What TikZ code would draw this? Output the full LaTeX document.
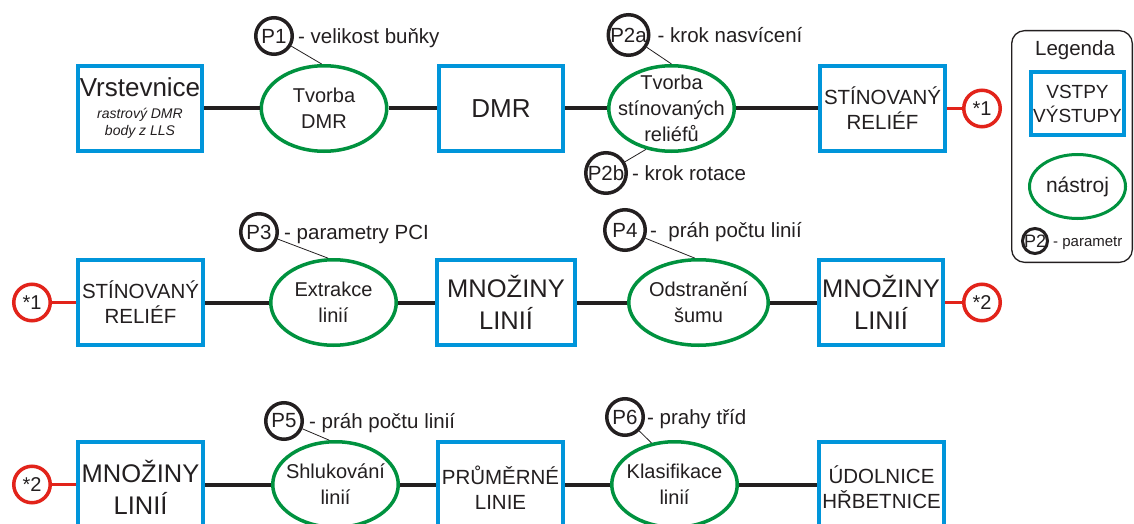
\documentclass[tikz,border=0pt]{standalone}
\usepackage{fontspec}
\setmainfont{Liberation Sans}
\usetikzlibrary{shapes.geometric,positioning}

\definecolor{boxblue}{RGB}{0,149,218}
\definecolor{toolgreen}{RGB}{0,146,63}
\definecolor{linkred}{RGB}{226,35,26}
\definecolor{ink}{RGB}{35,31,32}

\begin{document}
\begin{tikzpicture}[x=1pt,y=-1pt,
  every node/.style={text=ink},
  % data sets (inputs / outputs)
  databox/.style={rectangle, draw=boxblue, line width=4pt, inner sep=0pt,
    minimum width=124.5pt, minimum height=84.5pt, align=center,
    font=\fontsize{20.5}{25}\selectfont},
  bigtext/.style={font=\fontsize{25.5}{32}\selectfont},
  lowbox/.style={minimum height=90.5pt},
  % processing tools
  tool/.style={ellipse, draw=toolgreen, line width=3.5pt, inner sep=-20pt,
    minimum width=125.5pt, minimum height=85.5pt, align=center,
    font=\fontsize{20}{26}\selectfont},
  % parameters
  param/.style={circle, draw=ink, line width=3.5pt, inner sep=-6pt,
    minimum size=36.5pt, font=\fontsize{20.5}{20.5}\selectfont},
  bigparam/.style={param, minimum size=40.5pt},
  plab/.style={inner sep=0pt, font=\fontsize{20.5}{24}\selectfont,
    text height=14.7pt, text depth=0pt},
  pin/.style={draw=ink, line width=0.8pt},
  % page links
  link/.style={circle, draw=linkred, line width=3.5pt, inner sep=-6pt,
    minimum size=36.5pt, font=\fontsize{20}{20}\selectfont},
  linkline/.style={draw=linkred, line width=3.5pt},
  conn/.style={draw=ink, line width=4pt}
]
\useasboundingbox (0,0) rectangle (1134,524);
\clip (0,0) rectangle (1134,524);
\fill[white] (0,0) rectangle (1134,524);

% ---------- row 1 ----------
\node[databox, minimum width=124pt, font=\fontsize{14}{17}\selectfont\itshape] (vr) at (140,108.5)
  {{\upshape\fontsize{26}{26}\selectfont Vrstevnice}\\[5pt]rastrový DMR\\body z LLS};
\node[tool] (tv1) at (324,108.5) {Tvorba\\DMR};
\node[databox, font=\fontsize{26}{30}\selectfont] (dmr) at (501,108.5) {DMR};
\node[tool] (tv2) at (671.5,108.5) {Tvorba\\stínovaných\\reliéfů};
\node[databox, minimum width=125pt] (sr1) at (882.5,108.5) {STÍNOVANÝ\\RELIÉF};
\node[link] (c1a) at (982,108.5) {*1};

\draw[conn] (vr.east) -- (tv1.west);
\draw[conn] (tv1.east) -- (dmr.west);
\draw[conn] (dmr.east) -- (tv2.west);
\draw[conn] (tv2.east) -- (sr1.west);
\draw[linkline] (sr1.east) -- (c1a.west);

\node[param] (p1) at (274,36) {P1};
\node[plab, right=4pt of p1] (p1t) {- velikost buňky};
\draw[pin] (p1) -- (tv1.93);

\node[bigparam] (p2a) at (628.5,35) {P2a};
\node[plab, right=7pt of p2a] (p2at) {- krok nasvícení};
\draw[pin] (p2a) -- (tv2.north);

\node[bigparam] (p2b) at (606,173) {P2b};
\node[plab, right=4pt of p2b] (p2bt) {- krok rotace};
\draw[pin] (p2b) -- (tv2.-122);

% ---------- row 2 ----------
\node[link] (c1b) at (32,302.5) {*1};
\node[databox, minimum width=125pt] (sr2) at (140.5,302.5) {STÍNOVANÝ\\RELIÉF};
\node[tool] (ex) at (333.5,302.5) {Extrakce\\linií};
\node[databox, bigtext, minimum width=138pt] (ml1) at (506,302.5) {MNOŽINY\\LINIÍ};
\node[tool, minimum width=139.5pt] (od) at (698.5,302.5) {Odstranění\\šumu};
\node[databox, bigtext] (ml2) at (881,302.5) {MNOŽINY\\LINIÍ};
\node[link] (c2a) at (982,302.5) {*2};

\draw[linkline] (c1b.east) -- (sr2.west);
\draw[conn] (sr2.east) -- (ex.west);
\draw[conn] (ex.east) -- (ml1.west);
\draw[conn] (ml1.east) -- (od.west);
\draw[conn] (od.east) -- (ml2.west);
\draw[linkline] (ml2.east) -- (c2a.west);

\node[param] (p3) at (259,232) {P3};
\node[plab, right=5pt of p3] (p3t) {- parametry PCI};
\draw[pin] (p3) -- (ex.97);

\node[bigparam] (p4) at (625,230) {P4};
\node[plab, right=3pt of p4] (p4t) {-\ \ práh počtu linií};
\draw[pin] (p4) -- (od.95);

% ---------- row 3 (boxes run past the lower edge) ----------
\node[link] (c2b) at (32,484.5) {*2};
\node[databox, bigtext, lowbox, minimum width=125pt] (ml3) at (140.5,487.5) {MNOŽINY\\LINIÍ};
\node[tool] (sh) at (335.5,484.5) {Shlukování\\linií};
\node[databox, lowbox, minimum width=125pt] (pl) at (500.5,487.5) {PRŮMĚRNÉ\\LINIE};
\node[tool] (kl) at (674.5,484.5) {Klasifikace\\linií};
\node[databox, lowbox, minimum width=125pt] (ud) at (881.5,487.5) {ÚDOLNICE\\HŘBETNICE};

\draw[linkline] (c2b.east) -- (ml3.west |- c2b);
\draw[conn] (ml3.east |- sh) -- (sh.west);
\draw[conn] (sh.east) -- (pl.west |- sh);
\draw[conn] (pl.east |- kl) -- (kl.west);
\draw[conn] (kl.east) -- (ud.west |- kl);

\node[param] (p5) at (284,421) {P5};
\node[plab, right=5pt of p5] (p5t) {- práh počtu linií};
\draw[pin] (p5) -- (sh.98);

\node[param] (p6) at (625,417) {P6};
\node[plab, right=2pt of p6] (p6t) {- prahy tříd};
\draw[pin] (p6) -- (kl.119);

% ---------- legend ----------
\node[draw=ink, line width=1.3pt, rounded corners=13pt, inner sep=0pt,
      minimum width=120.7pt, minimum height=231.7pt] (leg) at (1072,146.5) {};
\node[anchor=base, inner sep=0pt, font=\fontsize{20.5}{24}\selectfont] (legt) at (1075,56) {Legenda};
\node[databox, minimum width=93pt, minimum height=63pt, font=\fontsize{19}{24}\selectfont]
  (legbox) at (1077.5,103.5) {VSTPY\\VÝSTUPY};
\node[tool, line width=3pt, minimum width=96pt, minimum height=64pt, font=\fontsize{21}{26}\selectfont]
  (legtool) at (1077.5,186.5) {nástroj};
\node[param, line width=3pt, minimum size=25pt, font=\fontsize{18}{18}\selectfont] (legp) at (1035,241) {P2};
\node[plab, right=4pt of legp, font=\fontsize{15}{18}\selectfont, text height=10.7pt] (legpt) {- parametr};
\end{tikzpicture}
\end{document}
